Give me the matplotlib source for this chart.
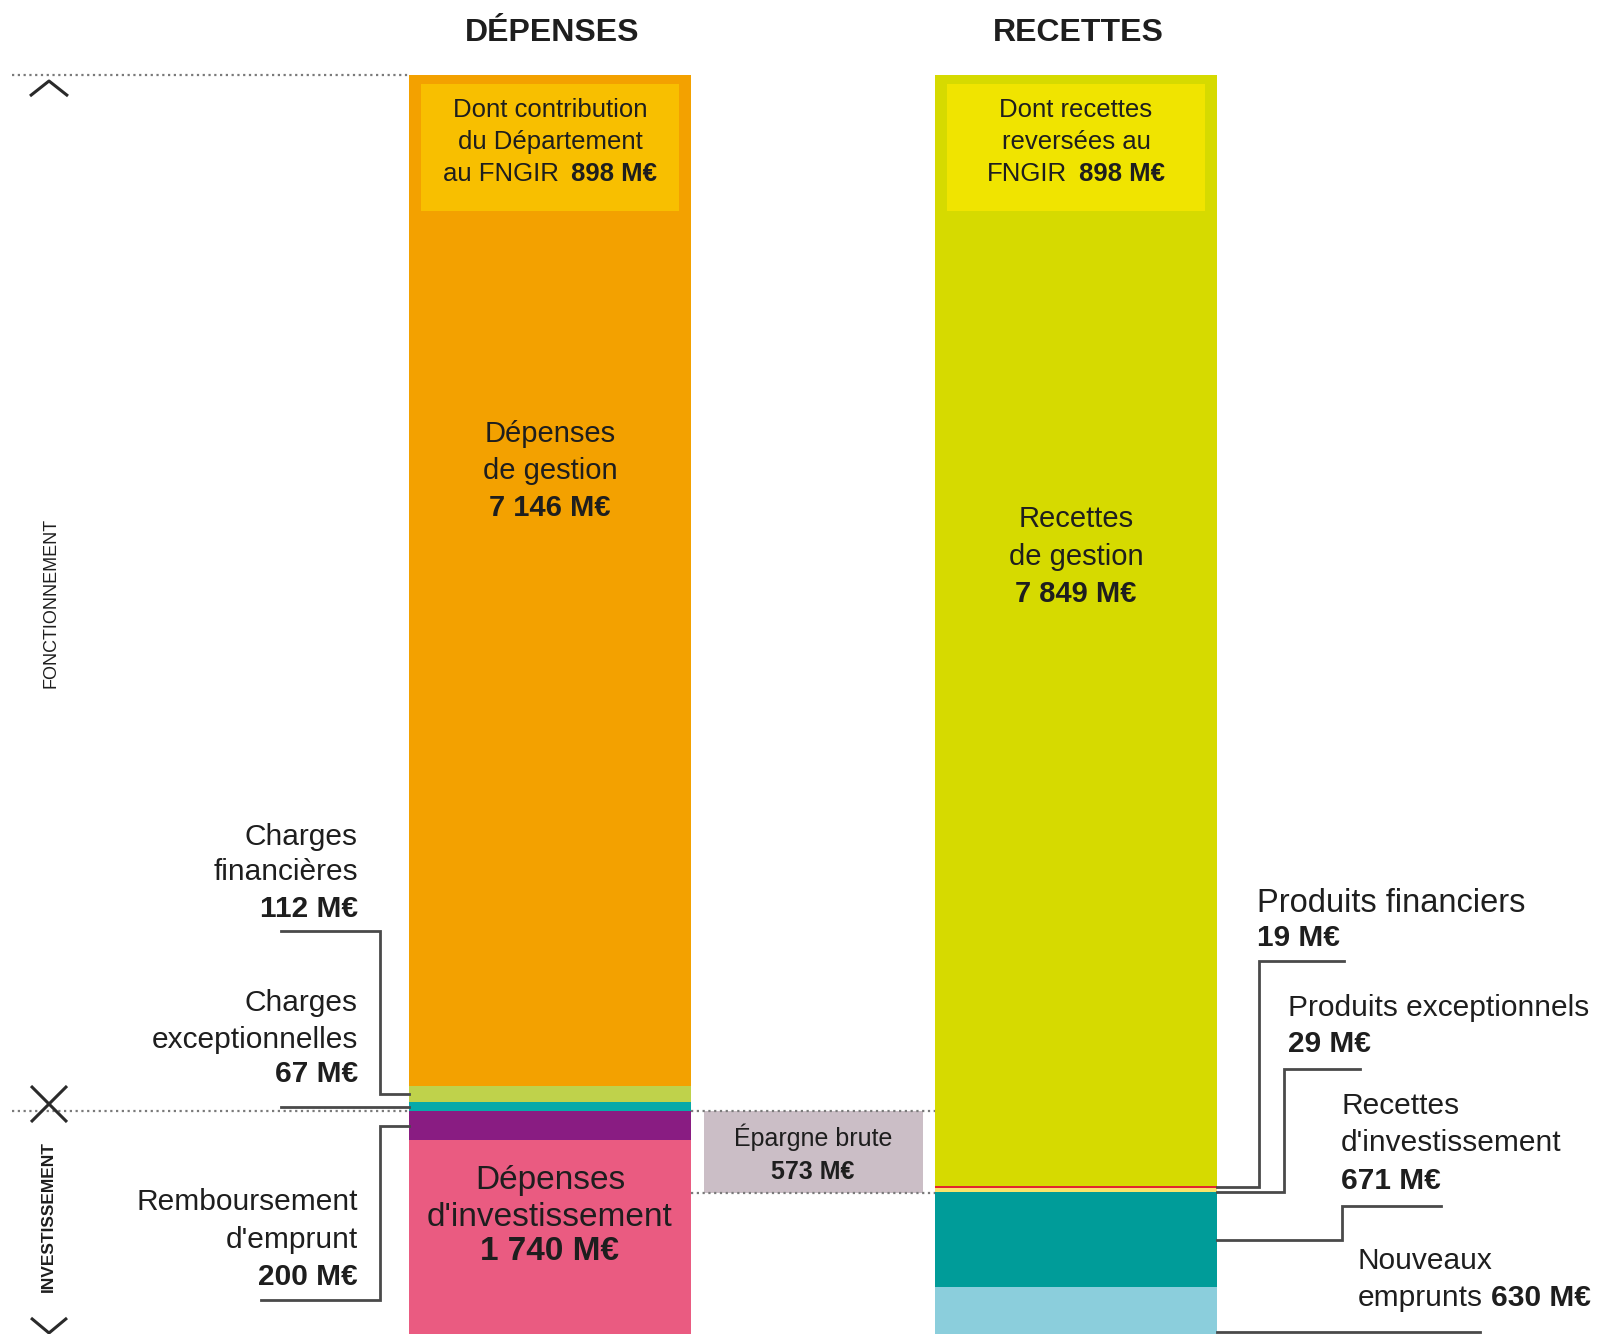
import matplotlib
matplotlib.use("Agg")
import matplotlib.pyplot as plt
import numpy as np

plt.rcParams['font.family'] = ['Liberation Sans', 'DejaVu Sans']

# ---- Budget figures (M€) ----
depenses_labels = ["Dépenses de gestion", "Charges financières", "Charges exceptionnelles",
                   "Remboursement d'emprunt", "Dépenses d'investissement"]
depenses_values = [7146, 112, 67, 200, 1740]
depenses_colors = ["#f3a100", "#bfd24b", "#07a9a9", "#891c82", "#ea5b81"]

recettes_labels = ["Recettes de gestion", "Produits financiers", "Produits exceptionnels",
                   "Recettes d'investissement", "Nouveaux emprunts"]
recettes_values = [7849, 19, 29, 671, 630]
recettes_colors = ["#d6da00", "#e3262c", "#f8e46a", "#009c99", "#8bcedc"]

fngir_depenses = 898
fngir_recettes = 898
epargne_brute = 573

headers = ["DÉPENSES", "RECETTES"]

# ---- Layout ----
W, H = 1603, 1334
PX_PER_UNIT = 0.1415         # vertical scale: pixels per M€
TOP_PX = 75                  # pixel row of the top of both columns
INK = "#1e1e1e"
LEAD = "#4a4a4a"
DOT = "#7a7a7a"

fig = plt.figure(figsize=(W / 100, H / 100), dpi=100)
ax = fig.add_axes([0, 0, 1, 1])
ax.set_xlim(0, W)
ax.set_ylim((H - TOP_PX) / PX_PER_UNIT, -TOP_PX / PX_PER_UNIT)
ax.axis("off")


def row(px):
    """Pixel row -> vertical data coordinate."""
    return (px - TOP_PX) / PX_PER_UNIT


LEFT_X, RIGHT_X, BAR_W = 550, 1076, 282

# stacked columns, drawn top-down
dep_bottoms = np.concatenate([[0], np.cumsum(depenses_values)[:-1]])
rec_bottoms = np.concatenate([[0], np.cumsum(recettes_values)[:-1]])
ax.bar(LEFT_X, depenses_values, bottom=dep_bottoms, width=BAR_W,
       color=depenses_colors, linewidth=0, align="center")
ax.bar(RIGHT_X, recettes_values, bottom=rec_bottoms, width=BAR_W,
       color=recettes_colors, linewidth=0, align="center")

# FNGIR insets inside the management blocks
inset_top = row(84)
ax.bar(LEFT_X, fngir_depenses, bottom=inset_top, width=BAR_W - 24,
       color="#f8bf00", linewidth=0)
ax.bar(RIGHT_X, fngir_recettes, bottom=inset_top, width=BAR_W - 24,
       color="#f0e400", linewidth=0)

# operating totals and gross savings block
dep_fonct = sum(depenses_values[:3])
rec_fonct = sum(recettes_values[:3])
EP_X, EP_W = 813, 219
ax.bar(EP_X, epargne_brute, bottom=dep_fonct, width=EP_W, color="#cbbec6", linewidth=0)

dot_style = dict(color=DOT, linewidth=1.6, linestyle=(0, (1.0, 1.6)))
ax.plot([12, LEFT_X - BAR_W / 2], [0, 0], **dot_style)
ax.plot([12, LEFT_X - BAR_W / 2], [dep_fonct, dep_fonct], **dot_style)
gap = [LEFT_X + BAR_W / 2, RIGHT_X - BAR_W / 2]
ax.plot(gap, [dep_fonct, dep_fonct], **dot_style)
ax.plot(gap, [dep_fonct + epargne_brute] * 2, **dot_style)

# section chevrons on the left margin
chev = dict(color="#2a2a2a", linewidth=2.2, solid_capstyle="butt")
ax.plot([30, 49, 68], [row(96), row(81), row(96)], **chev)
ax.plot([31, 49, 67], [row(1086), row(1104), row(1086)], **chev)
ax.plot([31, 49, 67], [row(1122), row(1104), row(1122)], **chev)
ax.plot([31, 49, 67], [row(1318), row(1333), row(1318)], **chev)

ax.text(51, row(603), "FONCTIONNEMENT", rotation=90, ha="center", va="center",
        fontsize=13, color=INK)
ax.text(48, row(1217), "INVESTISSEMENT", rotation=90, ha="center", va="center",
        fontsize=12.5, color=INK, fontweight="bold")

# column headers
for x, h in zip([552, 1078], headers):
    ax.text(x, row(33), h, ha="center", va="center", fontsize=23,
            fontweight="bold", color=INK)

renderer = fig.canvas.get_renderer()


def mixed_line(x, y, parts, size, ha="center", gap=0.3):
    """Draw a line made of (text, weight) pieces; x in pixels."""
    arts, widths = [], []
    for s, w in parts:
        t = ax.text(0, y, s, fontsize=size, fontweight=w, va="center",
                    ha="left", color=INK)
        widths.append(t.get_window_extent(renderer=renderer).width)
        arts.append(t)
    space = gap * size * 100 / 72
    total = sum(widths) + space * (len(parts) - 1)
    cur = x - total / 2 if ha == "center" else x
    for t, w in zip(arts, widths):
        t.set_x(cur)
        cur += w + space


def block(x, rows, lines, size, ha="center"):
    for y, (s, w) in zip(rows, lines):
        ax.text(x, row(y), s, ha=ha, va="center", fontsize=size,
                fontweight=w, color=INK)


def amount(v):
    return f"{v:,} M€".replace(",", " ")


# labels inside the columns
block(LEFT_X, [434, 471, 508],
      [("Dépenses", "normal"), ("de gestion", "normal"), (amount(depenses_values[0]), "bold")], 21)
block(RIGHT_X, [519, 557, 594],
      [("Recettes", "normal"), ("de gestion", "normal"), (amount(recettes_values[0]), "bold")], 21)
block(LEFT_X, [1180, 1217, 1252],
      [("Dépenses", "normal"), ("d'investissement", "normal"), (amount(depenses_values[4]), "bold")], 24)

block(LEFT_X, [110, 142], [("Dont contribution", "normal"), ("du Département", "normal")], 18.5)
mixed_line(LEFT_X, row(174), [("au FNGIR", "normal"), (amount(fngir_depenses), "bold")], 18.5, gap=0.5)
block(RIGHT_X, [110, 142], [("Dont recettes", "normal"), ("reversées au", "normal")], 18.5)
mixed_line(RIGHT_X, row(174), [("FNGIR", "normal"), (amount(fngir_recettes), "bold")], 18.5, gap=0.5)

block(EP_X, [1137, 1172], [("Épargne brute", "normal"), (amount(epargne_brute), "bold")], 18)

# left side callouts
LX = 358
block(LX, [837, 872, 909], [("Charges", "normal"), ("financières", "normal"),
                             (amount(depenses_values[1]), "bold")], 21.5, ha="right")
block(LX, [1003, 1040, 1074], [("Charges", "normal"), ("exceptionnelles", "normal"),
                                (amount(depenses_values[2]), "bold")], 21.5, ha="right")
block(LX, [1202, 1240, 1277], [("Remboursement", "normal"), ("d'emprunt", "normal"),
                                (amount(depenses_values[3]), "bold")], 21.5, ha="right")

lead = dict(color=LEAD, linewidth=2.0, solid_joinstyle="miter")
bar_l = LEFT_X - BAR_W / 2
bar_r = RIGHT_X + BAR_W / 2
mid_dep = dep_bottoms + np.array(depenses_values) / 2
mid_rec = rec_bottoms + np.array(recettes_values) / 2

ax.plot([bar_l, 380, 380, 281], [mid_dep[1], mid_dep[1], row(931), row(931)], **lead)
ax.plot([bar_l, 281], [mid_dep[2], mid_dep[2]], **lead)
ax.plot([bar_l, 380, 380, 261], [mid_dep[3], mid_dep[3], row(1300), row(1300)], **lead)

# right side callouts
ax.text(1257, row(903), "Produits financiers", ha="left", va="center", fontsize=23.5, color=INK)
ax.text(1257, row(938), amount(recettes_values[1]), ha="left", va="center",
        fontsize=21.5, fontweight="bold", color=INK)
ax.text(1288, row(1008), "Produits exceptionnels", ha="left", va="center", fontsize=21.5, color=INK)
ax.text(1288, row(1044), amount(recettes_values[2]), ha="left", va="center",
        fontsize=21.5, fontweight="bold", color=INK)
block(1341, [1106, 1143, 1181], [("Recettes", "normal"), ("d'investissement", "normal"),
                                  (amount(recettes_values[3]), "bold")], 21.5, ha="left")
ax.text(1358, row(1261), "Nouveaux", ha="left", va="center", fontsize=21.5, color=INK)
mixed_line(1358, row(1298), [("emprunts", "normal"), (amount(recettes_values[4]), "bold")],
           21.5, ha="left", gap=0.28)

y_fin = mid_rec[1]
y_exc = rec_bottoms[2] + recettes_values[2] * 0.85
ax.plot([bar_r, 1259, 1259, 1344], [y_fin, y_fin, row(961), row(961)], **lead)
ax.plot([bar_r, 1284, 1284, 1360], [y_exc, y_exc, row(1069), row(1069)], **lead)
ax.plot([bar_r, 1342, 1342, 1441], [mid_rec[3], mid_rec[3], row(1206), row(1206)], **lead)
ax.plot([bar_r, 1480], [mid_rec[4], mid_rec[4]], **lead)

fig.savefig("out.png", dpi=100)
